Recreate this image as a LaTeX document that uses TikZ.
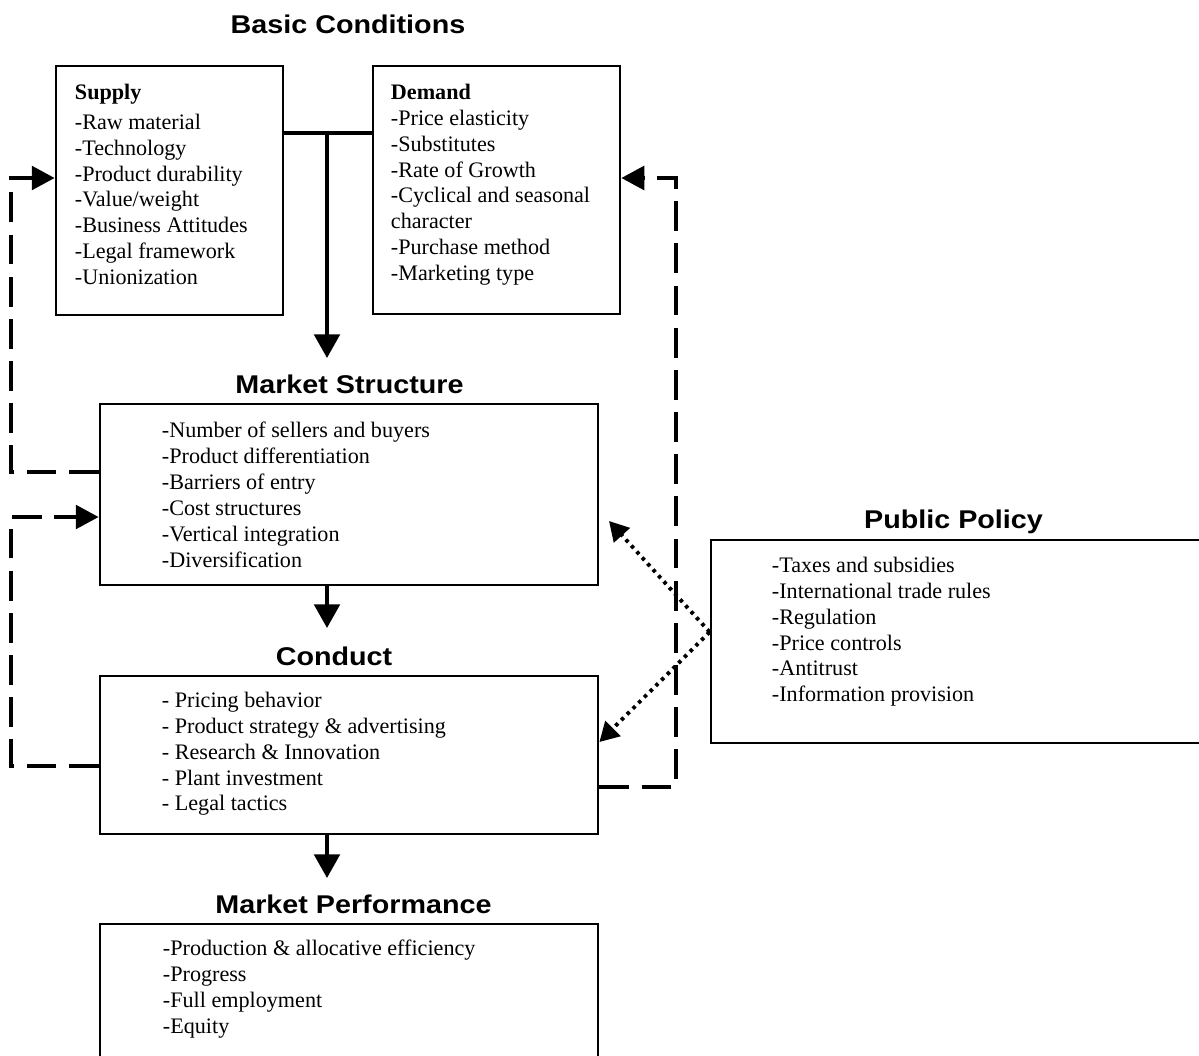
\documentclass[tikz,border=0pt]{standalone}
\usepackage{fontspec}
\setmainfont{Liberation Serif}
\newfontfamily\headfont{Liberation Sans}[FakeStretch=1.12]
\usetikzlibrary{arrows.meta,fit}

\begin{document}
\begin{tikzpicture}[x=0.02cm,y=-0.02cm,
  box/.style={draw,line width=1.6pt,inner sep=0pt},
  items/.style={anchor=north west,inner sep=0pt,align=left,font=\fontsize{12.6}{14.74}\selectfont},
  head/.style={anchor=base,inner sep=0pt,font=\headfont\bfseries\fontsize{14.6}{17}\selectfont},
  link/.style={line width=2.3pt},
  flow/.style={line width=2.3pt,-{Triangle[length=13.5pt,width=14.5pt]}},
  feedback/.style={line width=2pt,dash pattern=on 17pt off 7pt,-{Triangle[length=13pt,width=13.5pt]}},
  policyarrow/.style={line width=2.2pt,dash pattern=on 2pt off 2.6pt,-{Triangle[length=11pt,width=12pt]}}]
\useasboundingbox (0,0) rectangle (1199,1055);

% headings
\node[head] (basichead) at (348,33) {Basic Conditions};
\node[head] (mshead) at (349.5,393) {Market Structure};
\node[head] (cdhead) at (334,665) {Conduct};
\node[head] (pfhead) at (353.5,913) {Market Performance};
\node[head] (pphead) at (953.5,528) {Public Policy};

% boxes
\node[box,fit={(56,66) (283,315)}] (supply) {};
\node[box,fit={(373,66) (620,314)}] (demand) {};
\node[box,fit={(100,404) (598,585)}] (ms) {};
\node[box,fit={(100,676) (598,834)}] (conduct) {};
\node[box,fit={(100,924) (598,1070)}] (perf) {};
\node[box,fit={(711,540) (1215,743)}] (policy) {};

% lists
\node[items] (supplytext) at ([shift={(20,19)}]supply.north west)
  {\textbf{Supply}\\[2.3pt] -Raw material\\ -Technology\\ -Product durability\\ -Value/weight\\
   -Business Attitudes\\ -Legal framework\\ -Unionization};
\node[items] (demandtext) at ([shift={(19,19)}]demand.north west)
  {\textbf{Demand}\\ -Price elasticity\\ -Substitutes\\ -Rate of Growth\\ -Cyclical and seasonal\\
   character\\ -Purchase method\\ -Marketing type};
\node[items] (mstext) at ([shift={(63,19)}]ms.north west)
  {-Number of sellers and buyers\\ -Product differentiation\\ -Barriers of entry\\
   -Cost structures\\ -Vertical integration\\ -Diversification};
\node[items] (cdtext) at ([shift={(63,17)}]conduct.north west)
  {- Pricing behavior\\ - Product strategy \& advertising\\ - Research \& Innovation\\
   - Plant investment\\ - Legal tactics};
\node[items] (pftext) at ([shift={(64,17)}]perf.north west)
  {-Production \& allocative efficiency\\ -Progress\\ -Full employment\\ -Equity};
\node[items] (pptext) at ([shift={(62,18)}]policy.north west)
  {-Taxes and subsidies\\ -International trade rules\\ -Regulation\\ -Price controls\\
   -Antitrust\\ -Information provision};

% connectors
\coordinate (junc) at (327,133);
\coordinate (msin) at (327,358);
\coordinate (cdin) at (327,628);
\coordinate (pfin) at (327,878);
\coordinate (lane) at (11,0);
\coordinate (rlane) at (676,0);
\coordinate (supin) at (0,178);
\coordinate (msout) at (0,472);
\coordinate (msfb) at (0,517);
\coordinate (cdout) at (0,766);
\coordinate (cdright) at (0,787);
\coordinate (ppout) at (0,632);
\coordinate (cdpol) at (0,742);
\coordinate (mspol) at (609,521);

\draw[link] (supply.east |- junc) -- (demand.west |- junc);
\draw[flow] (junc) -- (msin);
\draw[flow] (ms.south -| junc) -- (cdin);
\draw[flow] (conduct.south -| junc) -- (pfin);

\draw[feedback] (ms.west |- msout) -- (lane |- msout) -- (lane |- supin) -- (supply.west |- supin);
\draw[feedback] (conduct.west |- cdout) -- (lane |- cdout) -- (lane |- msfb) -- (ms.west |- msfb);
\draw[feedback] (conduct.east |- cdright) -- (rlane |- cdright) -- (rlane |- supin) -- (demand.east |- supin);

\draw[policyarrow] (policy.west |- ppout) -- (mspol);
\draw[policyarrow] (policy.west |- ppout) -- (conduct.east |- cdpol);
\end{tikzpicture}
\end{document}
